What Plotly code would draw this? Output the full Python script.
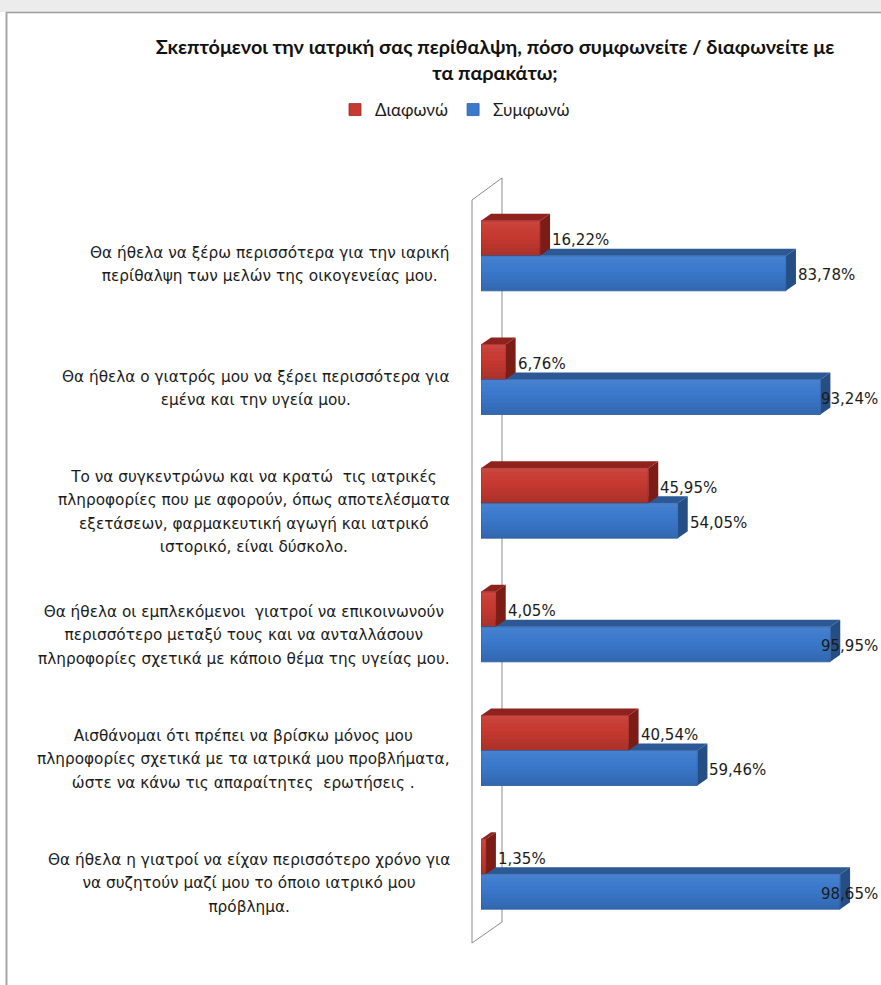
import plotly.graph_objects as go

# ---- data -------------------------------------------------------------
questions = [
    ["Θα ήθελα να ξέρω περισσότερα για την ιαρική",
     "περίθαλψη των μελών της οικογενείας μου."],
    ["Θα ήθελα ο γιατρός μου να ξέρει περισσότερα για",
     "εμένα και την υγεία μου."],
    ["Το να συγκεντρώνω και να κρατώ  τις ιατρικές",
     "πληροφορίες που με αφορούν, όπως αποτελέσματα",
     "εξετάσεων, φαρμακευτική αγωγή και ιατρικό",
     "ιστορικό, είναι δύσκολο."],
    ["Θα ήθελα οι εμπλεκόμενοι  γιατροί να επικοινωνούν",
     "περισσότερο μεταξύ τους και να ανταλλάσουν",
     "πληροφορίες σχετικά με κάποιο θέμα της υγείας μου."],
    ["Αισθάνομαι ότι πρέπει να βρίσκω μόνος μου",
     "πληροφορίες σχετικά με τα ιατρικά μου προβλήματα,",
     "ώστε να κάνω τις απαραίτητες  ερωτήσεις ."],
    ["Θα ήθελα η γιατροί να είχαν περισσότερο χρόνο για",
     "να συζητούν μαζί μου το όποιο ιατρικό μου",
     "πρόβλημα."],
]
disagree = [16.22, 6.76, 45.95, 4.05, 40.54, 1.35]
agree = [83.78, 93.24, 54.05, 95.95, 59.46, 98.65]
series_names = ["Διαφωνώ", "Συμφωνώ"]
title_lines = ["Σκεπτόμενοι την ιατρική σας περίθαλψη, πόσο συμφωνείτε / διαφωνείτε με",
               "τα παρακάτω;"]

# ---- geometry / style -------------------------------------------------
W, H = 881, 985
M_L, M_R, M_T, M_B = 481, 0, 194, 49
PLOT_W = W - M_L - M_R
PLOT_H = H - M_T - M_B
PX_PER_PCT = 3.64
X_MAX = PLOT_W / PX_PER_PCT
N = len(questions)
PX_PER_ROW = PLOT_H / N
BARGAP = 0.434
BAR_W = (1 - BARGAP) / 2

DEPTH_X = 10 / PX_PER_PCT      # 3D depth, in axis units
DEPTH_Y = 7 / PX_PER_ROW
LABEL_W = 60 / PX_PER_PCT      # approx. width of a value label, in axis units

RED = dict(front="#C63A31", top="#8F221C", side="#7C1C17", edge="#9A2A24")
BLUE = dict(front="#3B79CC", top="#2C5995", side="#254E84", edge="#2D5FA3")
TEXT = "#1b1b1b"
LABEL_FONT = "DejaVu Sans, Verdana, sans-serif"
TITLE_FONT = "Lato, Carlito, Calibri, sans-serif"

# soft vertical gradient over a bar's front face (top -> bottom)
SHADE = ["rgba(255,255,255,0.06)", "rgba(255,255,255,0.04)", "rgba(255,255,255,0.02)",
         "rgba(0,0,0,0)", "rgba(0,0,0,0.02)", "rgba(0,0,0,0.045)",
         "rgba(0,0,0,0.07)", "rgba(0,0,0,0.10)", "rgba(0,0,0,0.13)"]


def paper_x(px):
    return (px - M_L) / PLOT_W


def paper_y(py):
    return (H - M_B - py) / PLOT_H


def pct(v):
    return f"{v:.2f}".replace(".", ",") + "%"


ypos = list(range(N))

fig = go.Figure()
for name, vals, col in [(series_names[0], disagree, RED), (series_names[1], agree, BLUE)]:
    fig.add_trace(go.Bar(
        name=name, y=ypos, x=vals, orientation="h",
        marker=dict(color=col["front"], line=dict(color=col["edge"], width=0.8)),
        hoverinfo="x+name",
    ))

shapes = []

# chart frame: grey strip above, border lines
shapes.append(dict(type="rect", xref="paper", yref="paper",
                   x0=paper_x(0), x1=paper_x(W), y0=paper_y(0), y1=paper_y(12),
                   fillcolor="#ececec", line_width=0, layer="below"))
shapes.append(dict(type="line", xref="paper", yref="paper",
                   x0=paper_x(6), x1=paper_x(W), y0=paper_y(12.5), y1=paper_y(12.5),
                   line=dict(color="#9c9c9c", width=1.5)))
shapes.append(dict(type="line", xref="paper", yref="paper",
                   x0=paper_x(6.5), x1=paper_x(6.5), y0=paper_y(12), y1=paper_y(H),
                   line=dict(color="#a8a8a8", width=2)))

# the 3D side wall behind the category axis
wall = [(472, 200), (502, 178), (502, 922), (472, 943)]
path = "M " + " L ".join(f"{paper_x(a)},{paper_y(b)}" for a, b in wall) + " Z"
shapes.append(dict(type="path", xref="paper", yref="paper", path=path,
                   fillcolor="white", line=dict(color="#8c8c8c", width=1), layer="below"))


def depth_faces(v, top, bottom, col):
    """Top and right faces of a horizontal 3D bar (y axis reversed)."""
    t = (f"M 0,{top} L {v},{top} L {v + DEPTH_X},{top - DEPTH_Y} "
         f"L {DEPTH_X},{top - DEPTH_Y} Z")
    s = (f"M {v},{top} L {v + DEPTH_X},{top - DEPTH_Y} "
         f"L {v + DEPTH_X},{bottom - DEPTH_Y} L {v},{bottom} Z")
    return [
        dict(type="path", xref="x", yref="y", path=t, fillcolor=col["top"],
             line=dict(width=0), layer="below"),
        dict(type="path", xref="x", yref="y", path=s, fillcolor=col["side"],
             line=dict(width=0), layer="below"),
    ]


def front_shading(v, top, bottom):
    """Thin horizontal bands approximating a gradient on the front face."""
    h = (bottom - top) / len(SHADE)
    return [
        dict(type="rect", xref="x", yref="y", x0=0, x1=v,
             y0=top + k * h, y1=top + (k + 1) * h,
             fillcolor=c, line_width=0, layer="above")
        for k, c in enumerate(SHADE)
    ]


# blue faces first so the red bar above sits in front of them
for i, v in enumerate(agree):
    shapes += depth_faces(v, i, i + BAR_W, BLUE)
    shapes += front_shading(v, i, i + BAR_W)
for i, v in enumerate(disagree):
    shapes += depth_faces(v, i - BAR_W, i, RED)
    shapes += front_shading(v, i - BAR_W, i)

annotations = []
for i, lines in enumerate(questions):
    txt = "<br>".join(f'<span style="font-size:15.3px">{ln}</span>' for ln in lines)
    annotations.append(dict(
        xref="paper", yref="y", x=paper_x(452), y=i, xanchor="right", yanchor="middle",
        yshift=-9, text=txt, showarrow=False, align="center",
        font=dict(family=LABEL_FONT, size=18, color=TEXT),
    ))

for vals, off in [(disagree, -BAR_W / 2), (agree, BAR_W / 2)]:
    for i, v in enumerate(vals):
        start = v + DEPTH_X
        if start + LABEL_W > X_MAX:
            # too close to the right edge: pull the label back inside the chart
            pos = dict(xref="paper", x=1, xanchor="right", xshift=-1)
        else:
            pos = dict(xref="x", x=start, xanchor="left")
        annotations.append(dict(
            **pos, yref="y", y=i + off, yanchor="middle", yshift=-2,
            text=pct(v), showarrow=False,
            font=dict(family=LABEL_FONT, size=15, color=TEXT),
        ))

fig.update_layout(
    width=W, height=H,
    margin=dict(l=M_L, r=M_R, t=M_T, b=M_B),
    paper_bgcolor="white", plot_bgcolor="rgba(0,0,0,0)",
    barmode="group", bargap=BARGAP, bargroupgap=0,
    title=dict(text="<br>".join(title_lines), xref="paper", x=paper_x(495), xanchor="center",
               yref="container", y=1 - 54 / H, yanchor="middle",
               font=dict(family=TITLE_FONT, size=19.8, color="#111111", weight="bold")),
    legend=dict(orientation="h", xref="paper", x=paper_x(455), xanchor="center",
                yref="paper", y=paper_y(110), yanchor="middle",
                font=dict(family=TITLE_FONT, size=17, color=TEXT),
                itemwidth=30, traceorder="normal", bgcolor="rgba(0,0,0,0)"),
    xaxis=dict(range=[0, X_MAX], showgrid=False, zeroline=False, showticklabels=False,
               showline=False, ticks=""),
    yaxis=dict(range=[N - 0.5, -0.5], showgrid=False, zeroline=False, showticklabels=False,
               showline=False, ticks=""),
    shapes=shapes, annotations=annotations,
    showlegend=True,
)

fig.write_html("out.html")
